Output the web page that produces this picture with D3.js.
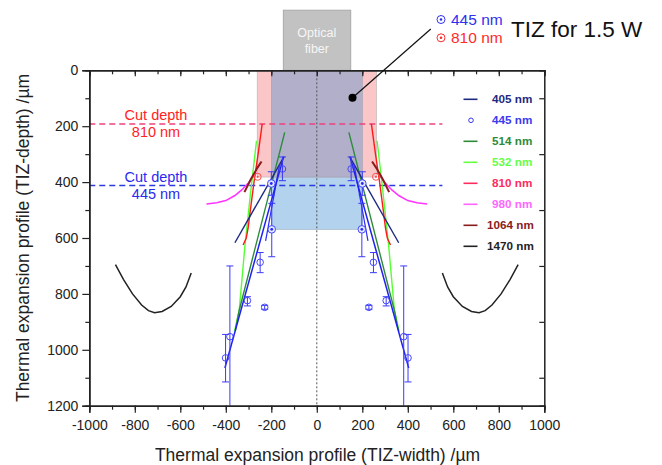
<!DOCTYPE html>
<html>
<head>
<meta charset="utf-8">
<script src="https://cdn.jsdelivr.net/npm/d3@7.9.0/dist/d3.min.js"></script>
<style>
  body { margin: 0; background: #fff; }
  svg { font-family: "Liberation Sans", Arial, sans-serif; }
</style>
</head>
<body>
<svg id="chart" width="662" height="465"></svg>
<script>
// values (left half; the chart is mirrored about x = 0)
const xTicks = [-1000, -800, -600, -400, -200, 0, 200, 400, 600, 800, 1000];
const yTicks = [0, 200, 400, 600, 800, 1000, 1200];

const line405 = [[-144, 309], [-360, 617]];
const line445 = [[-148, 315], [-404, 1065]];
const line445b = [[-163, 335], [-225, 610]];
const line514 = [[-141, 222], [-342, 862], [-358, 930]];
const line532 = [[-265, 252], [-290, 430], [-315, 620], [-341, 858], [-362, 935]];
const line810 = [[-240, 192], [-258, 300], [-276, 400], [-292, 500], [-302, 565], [-310, 600], [-324, 625]];
const line980 = [[-485, 478], [-440, 474], [-400, 466], [-360, 448], [-330, 428], [-300, 402], [-278, 380], [-265, 366]];
const line1064 = [[-318, 436], [-290, 390], [-262, 350], [-243, 326]];
const line1470 = [[-885, 695], [-850, 748], [-810, 800], [-770, 840], [-740, 860], [-713, 867], [-680, 863], [-640, 845], [-600, 810], [-575, 775], [-552, 725]];

// 445 nm points: x, depth, error low, error high, dotted marker
const points445 = [
  { x: -401, y: 1029, lo: 945, hi: 1115, dot: false },
  { x: -382, y: 953, lo: 700, hi: 1200, dot: false },
  { x: -305, y: 824, lo: 810, hi: 843, dot: false },
  { x: -249, y: 687, lo: 652, hi: 724, dot: false },
  { x: -229, y: 848, lo: 841, hi: 855, dot: false },
  { x: -151, y: 353, lo: 310, hi: 395, dot: false },
  { x: -200, y: 405, lo: 363, hi: 447, dot: true },
  { x: -198, y: 569, lo: 476, hi: 667, dot: true }
];
const point810 = [[-260, 381]];

const cutDepths = [
  { name: '810 nm', depth: 192, color: '#f0407c', text: '#ff2222' },
  { name: '445 nm', depth: 412, color: '#2a3ae0', text: '#2a2aee' }
];

// TIZ rectangles: [x0, x1, depth0, depth1]
const tiz810 = [-262, 262, 0, 382];
const tiz445 = [-200, 200, 0, 570];
const fiber = [-147, 149, -215, 0];
const calloutDot = [157, 98];
const calloutEnd = [501, -148];

const legendNames = ['405 nm', '445 nm', '514 nm', '532 nm', '810 nm', '980 nm', '1064 nm', '1470 nm'];
const legendColors = ['#1e2a80', '#3a3af0', '#2e8b3a', '#66ff44', '#ff2a5e', '#ff66ff', '#8b1c1c', '#222222'];

const svg = d3.select('#chart');
const x = d3.scaleLinear().domain([-1000, 1000]).range([89.3, 544.3]);
const y = d3.scaleLinear().domain([0, 1200]).range([70.3, 405.7]);

const mirror = (pts) => pts.map(([a, b]) => [-a, b]);
const lineGen = d3.line().x((d) => x(d[0])).y((d) => y(d[1]));

// optical fiber
svg.append('rect')
  .attr('x', x(fiber[0])).attr('y', y(fiber[2]))
  .attr('width', x(fiber[1]) - x(fiber[0])).attr('height', y(fiber[3]) - y(fiber[2]))
  .attr('fill', '#c2c2c2').attr('stroke', '#a9a9a9');
svg.append('text').attr('x', x(0)).attr('y', 37).attr('text-anchor', 'middle')
  .attr('font-size', 12.5).attr('fill', '#f6f6f6').text('Optical');
svg.append('text').attr('x', x(0)).attr('y', 53).attr('text-anchor', 'middle')
  .attr('font-size', 12.5).attr('fill', '#f6f6f6').text('fiber');

// TIZ zones
const plot = svg.append('g');
plot.append('rect')
  .attr('x', x(tiz810[0])).attr('y', y(tiz810[2]))
  .attr('width', x(tiz810[1]) - x(tiz810[0])).attr('height', y(tiz810[3]) - y(tiz810[2]))
  .attr('fill', '#fbc6c7').attr('stroke', '#b8b0b0').attr('stroke-width', 0.6);
plot.append('rect')
  .attr('x', x(tiz445[0])).attr('y', y(tiz810[3]))
  .attr('width', x(tiz445[1]) - x(tiz445[0])).attr('height', y(tiz445[3]) - y(tiz810[3]))
  .attr('fill', '#b3d2ed').attr('stroke', '#a8b4c0').attr('stroke-width', 0.6);
plot.append('rect')
  .attr('x', x(tiz445[0])).attr('y', y(tiz445[2]))
  .attr('width', x(tiz445[1]) - x(tiz445[0])).attr('height', y(tiz810[3]) - y(tiz445[2]))
  .attr('fill', '#b1afc9').attr('stroke', '#a0a0b0').attr('stroke-width', 0.6);

// center dotted line
plot.append('line')
  .attr('x1', x(0)).attr('x2', x(0)).attr('y1', y(0)).attr('y2', y(1200))
  .attr('stroke', '#555').attr('stroke-width', 1).attr('stroke-dasharray', '2,2');

// cut depth dashed lines
cutDepths.forEach((c) => {
  plot.append('line')
    .attr('x1', x(-1000)).attr('x2', x(552)).attr('y1', y(c.depth)).attr('y2', y(c.depth))
    .attr('stroke', c.color).attr('stroke-width', 1.4).attr('stroke-dasharray', '6,4');
});
svg.append('text').attr('x', 156).attr('y', 120).attr('text-anchor', 'middle')
  .attr('font-size', 14.5).attr('fill', cutDepths[0].text).text('Cut depth');
svg.append('text').attr('x', 156).attr('y', 137).attr('text-anchor', 'middle')
  .attr('font-size', 14.5).attr('fill', cutDepths[0].text).text('810 nm');
svg.append('text').attr('x', 156).attr('y', 182).attr('text-anchor', 'middle')
  .attr('font-size', 14.5).attr('fill', cutDepths[1].text).text('Cut depth');
svg.append('text').attr('x', 156).attr('y', 199).attr('text-anchor', 'middle')
  .attr('font-size', 14.5).attr('fill', cutDepths[1].text).text('445 nm');

// series lines, both halves
const series = [
  [line1470, '#222222', 1.5],
  [line980, '#ff33ff', 1.5],
  [line532, '#55ff33', 1.4],
  [line514, '#2e8b3a', 1.4],
  [line810, '#ff1a1a', 1.4],
  [line1064, '#8b1c1c', 2],
  [line405, '#1e2a80', 1.4],
  [line445b, '#2d2df0', 1.2],
  [line445, '#2020f0', 1.5]
];
series.forEach(([pts, color, w]) => {
  [pts, mirror(pts)].forEach((p) => {
    plot.append('path').attr('d', lineGen(p))
      .attr('fill', 'none').attr('stroke', color).attr('stroke-width', w);
  });
});

// 445 nm points with error bars
const allPoints = points445.concat(points445.map((d) => ({ ...d, x: -d.x })));
allPoints.forEach((d) => {
  const px = x(d.x);
  plot.append('line').attr('x1', px).attr('x2', px).attr('y1', y(d.lo)).attr('y2', y(d.hi))
    .attr('stroke', '#3a3af8').attr('stroke-width', 1);
  [d.lo, d.hi].forEach((v) => {
    if (v < 1200) {
      plot.append('line').attr('x1', px - 3.5).attr('x2', px + 3.5).attr('y1', y(v)).attr('y2', y(v))
        .attr('stroke', '#3a3af8').attr('stroke-width', 1);
    }
  });
  plot.append('circle').attr('cx', px).attr('cy', y(d.y)).attr('r', d.dot ? 3.8 : 3.3)
    .attr('fill', d.dot ? '#dfe6ff' : 'none').attr('stroke', '#4646ff').attr('stroke-width', 1);
  if (d.dot) {
    plot.append('circle').attr('cx', px).attr('cy', y(d.y)).attr('r', 1.4).attr('fill', '#2a2af0');
  }
});
point810.concat(mirror(point810)).forEach((d) => {
  plot.append('circle').attr('cx', x(d[0])).attr('cy', y(d[1])).attr('r', 3.5)
    .attr('fill', 'none').attr('stroke', '#ff5050').attr('stroke-width', 1);
  plot.append('circle').attr('cx', x(d[0])).attr('cy', y(d[1])).attr('r', 1.1).attr('fill', '#ff5050');
});

// axes
const axisColor = '#222';
const minorX = d3.range(-1000, 1001, 100);
const minorY = d3.range(100, 1200, 200);
const plainNum = (d) => String(d);
svg.append('g').attr('transform', `translate(0,${y(1200)})`)
  .call(d3.axisBottom(x).tickValues(minorX).tickSize(4).tickFormat(''));
svg.append('g').attr('transform', `translate(0,${y(1200)})`)
  .call(d3.axisBottom(x).tickValues(xTicks).tickSize(7).tickPadding(4).tickFormat(plainNum))
  .call((g) => g.selectAll('text').attr('font-size', 14).attr('fill', '#222').attr('dy', '0.95em'));
svg.append('g').attr('transform', `translate(0,${y(0)})`)
  .call(d3.axisTop(x).tickValues(minorX).tickSize(-4).tickFormat(''));
svg.append('g').attr('transform', `translate(0,${y(0)})`)
  .call(d3.axisTop(x).tickValues(xTicks).tickSize(-6).tickFormat(''));
svg.append('g').attr('transform', `translate(${x(-1000)},0)`)
  .call(d3.axisLeft(y).tickValues(minorY).tickSize(4).tickFormat(''));
svg.append('g').attr('transform', `translate(${x(-1000)},0)`)
  .call(d3.axisLeft(y).tickValues(yTicks).tickSize(7).tickPadding(4).tickFormat(plainNum))
  .call((g) => g.selectAll('text').attr('font-size', 14).attr('fill', '#222'));
svg.append('g').attr('transform', `translate(${x(1000)},0)`)
  .call(d3.axisRight(y).tickValues(minorY).tickSize(-5).tickFormat(''));
svg.selectAll('.domain').attr('stroke', axisColor).attr('stroke-width', 1.5);
svg.selectAll('.tick line').attr('stroke', axisColor).attr('stroke-width', 1.2);

svg.append('text').attr('x', 317.5).attr('y', 461).attr('text-anchor', 'middle')
  .attr('font-size', 17.5).attr('fill', '#222').text('Thermal expansion profile (TIZ-width) /µm');
svg.append('text').attr('transform', `translate(29,${y(600)}) rotate(-90)`).attr('text-anchor', 'middle')
  .attr('font-size', 17.5).attr('fill', '#222').text('Thermal expansion profile (TIZ-depth) /µm');

// legend
const legend = svg.append('g');
legendNames.forEach((name, i) => {
  const ly = 99.3 + i * 21;
  if (i === 1) {
    legend.append('circle').attr('cx', 471).attr('cy', ly).attr('r', 2.3)
      .attr('fill', 'none').attr('stroke', legendColors[i]).attr('stroke-width', 1);
  } else {
    legend.append('line').attr('x1', 463.5).attr('x2', 477.5).attr('y1', ly).attr('y2', ly)
      .attr('stroke', legendColors[i]).attr('stroke-width', 1.6);
  }
  legend.append('text').attr('x', i >= 6 ? 487 : 492).attr('y', ly + 4)
    .attr('font-size', 11.7).attr('font-weight', 'bold').attr('fill', legendColors[i]).text(name);
});

// callout
svg.append('line')
  .attr('x1', x(calloutDot[0])).attr('y1', y(calloutDot[1]))
  .attr('x2', x(calloutEnd[0])).attr('y2', y(calloutEnd[1]))
  .attr('stroke', '#111').attr('stroke-width', 1.2);
svg.append('circle').attr('cx', x(calloutDot[0])).attr('cy', y(calloutDot[1])).attr('r', 4).attr('fill', '#000');

const topKey = [['445 nm', '#3030ee', 25], ['810 nm', '#ff2a2a', 43.3]];
topKey.forEach(([label, color, by]) => {
  svg.append('circle').attr('cx', 441).attr('cy', by - 5.5).attr('r', 4)
    .attr('fill', 'none').attr('stroke', color).attr('stroke-width', 1);
  svg.append('circle').attr('cx', 441).attr('cy', by - 5.5).attr('r', 1.3).attr('fill', color);
  svg.append('text').attr('x', 451).attr('y', by).attr('font-size', 15.5).attr('fill', color).text(label);
});
svg.append('text').attr('x', 511).attr('y', 36.7).attr('font-size', 22.5).attr('fill', '#111').text('TIZ for 1.5 W');
</script>
</body>
</html>
